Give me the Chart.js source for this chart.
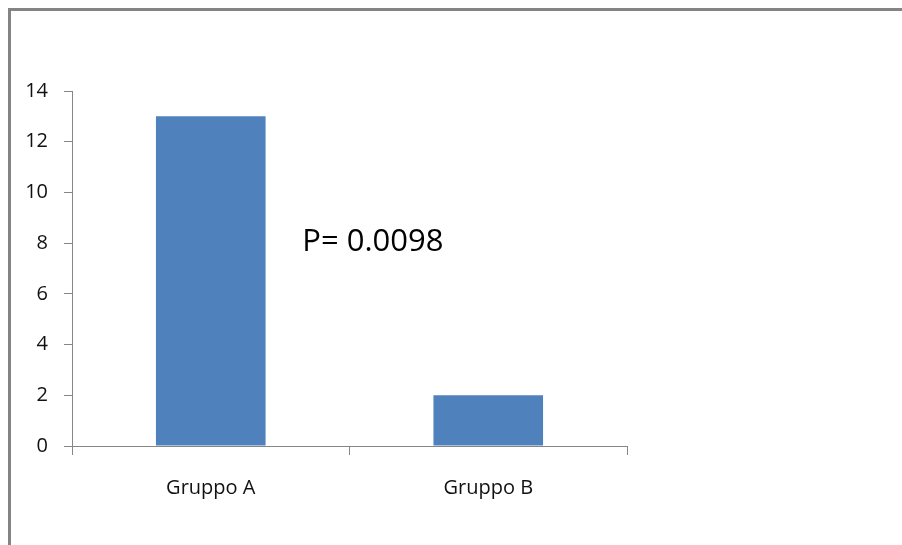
<!DOCTYPE html>
<html>
<head>
<meta charset="utf-8">
<script src="https://cdn.jsdelivr.net/npm/chart.js@4/dist/chart.umd.min.js"></script>
<style>
  html, body { margin: 0; padding: 0; background: #ffffff; }
  #wrap { position: relative; width: 902px; height: 545px; }
</style>
</head>
<body>
<div id="wrap"><canvas id="c" width="902" height="545"></canvas></div>
<script>
// Groups and counts
const categories = ["Gruppo A", "Gruppo B"];
const counts = [13, 2];
const yTicks = [0, 2, 4, 6, 8, 10, 12, 14];
const pLabel = "P= 0.0098";

const axisColor = "#868686";
const barColor = "#4F81BD";
const font = "'Open Sans', 'Liberation Sans', sans-serif";

// Frame lines along the left and top edges
const framePlugin = {
  id: "frame",
  beforeDraw(chart) {
    const ctx = chart.ctx;
    ctx.save();
    ctx.fillStyle = "#ffffff";
    ctx.fillRect(0, 0, chart.width, chart.height);
    ctx.fillStyle = "#848484";
    ctx.fillRect(8, 8, 3, chart.height - 8);
    ctx.fillRect(8, 8, chart.width - 8, 3);
    ctx.restore();
  }
};

// p-value note placed between the two groups
const notePlugin = {
  id: "note",
  afterDatasetsDraw(chart) {
    const ctx = chart.ctx;
    const x = chart.scales.x;
    const y = chart.scales.y;
    ctx.save();
    ctx.font = "31px " + font;
    ctx.fillStyle = "#000000";
    ctx.textAlign = "left";
    ctx.textBaseline = "middle";
    const left = x.getPixelForValue(0) + (x.getPixelForValue(1) - x.getPixelForValue(0)) * 0.33;
    ctx.fillText(pLabel, left, y.getPixelForValue(8) - 1);
    ctx.restore();
  }
};

new Chart(document.getElementById("c"), {
  type: "bar",
  data: {
    labels: categories,
    datasets: [{
      data: counts,
      backgroundColor: barColor,
      borderWidth: 0,
      barPercentage: 0.395,
      categoryPercentage: 1.0
    }]
  },
  options: {
    responsive: false,
    animation: false,
    layout: { padding: { top: 91, right: 275, left: 0, bottom: 0 } },
    plugins: {
      legend: { display: false },
      tooltip: { enabled: false }
    },
    scales: {
      x: {
        offset: true,
        grid: {
          offset: true,
          drawOnChartArea: false,
          drawTicks: true,
          tickLength: 9,
          color: axisColor
        },
        border: { display: true, color: axisColor, width: 1 },
        ticks: {
          color: "#111111",
          font: { family: font, size: 20 },
          padding: 21,
          maxRotation: 0
        },
        afterFit(scale) { scale.height = 99; }
      },
      y: {
        min: 0,
        max: 14,
        afterBuildTicks(scale) {
          scale.ticks = yTicks.map(v => ({ value: v }));
        },
        grid: {
          drawOnChartArea: false,
          drawTicks: true,
          tickLength: 8,
          color: axisColor
        },
        border: { display: true, color: axisColor, width: 1 },
        ticks: {
          color: "#111111",
          font: { family: font, size: 20 },
          padding: 16
        },
        afterFit(scale) { scale.width = 72; }
      }
    }
  },
  plugins: [framePlugin, notePlugin]
});
</script>
</body>
</html>
